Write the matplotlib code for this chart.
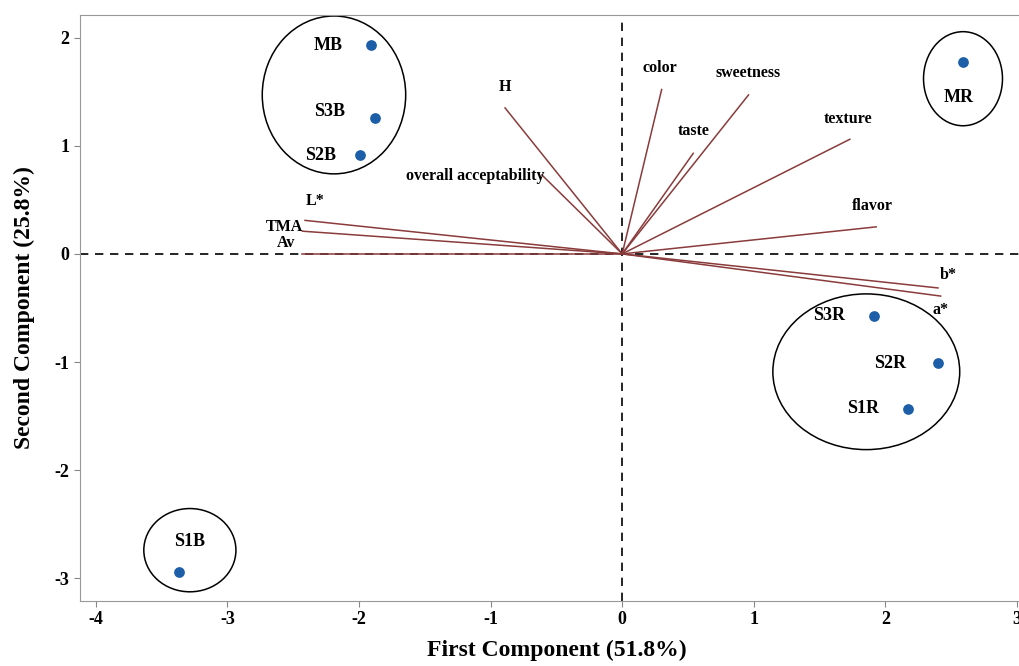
import matplotlib
matplotlib.use("Agg")
import matplotlib.pyplot as plt
from matplotlib.patches import Ellipse

# sample scores (PC1, PC2)
samples = ["MB", "S3B", "S2B", "MR", "S3R", "S2R", "S1R", "S1B"]
pc1 = [-1.91, -1.88, -1.99, 2.59, 1.91, 2.40, 2.17, -3.37]
pc2 = [1.93, 1.26, 0.91, 1.77, -0.57, -1.01, -1.43, -2.94]

# loading vectors
variables = ["H", "overall acceptability", "color", "sweetness", "taste",
             "texture", "flavor", "b*", "a*", "L*", "TMA", "Av"]
load1 = [-0.89, -0.61, 0.30, 0.96, 0.54, 1.73, 1.93, 2.40, 2.42, -2.41, -2.43, -2.43]
load2 = [1.35, 0.73, 1.52, 1.47, 0.93, 1.06, 0.25, -0.315, -0.39, 0.31, 0.21, 0.0]

# group ellipses: centre x, centre y, width, height
groups_cx = [-2.19, 2.59, 1.855, -3.285]
groups_cy = [1.47, 1.62, -1.09, -2.74]
groups_w = [1.09, 0.60, 1.42, 0.70]
groups_h = [1.46, 0.87, 1.44, 0.77]

# label offsets in pixels (dx, dy, ha)
sample_off = {"MB": (-43, 0), "S3B": (-45, 6), "S2B": (-40, 0), "MR": (-4, -35),
              "S3R": (-44, 0), "S2R": (-48, 0), "S1R": (-45, 0), "S1B": (11, 30)}
var_off = {"H": (0, 21, "center"), "overall acceptability": (3, -1, "right"),
           "color": (-2, 22, "center"), "sweetness": (0, 22, "center"),
           "taste": (0, 22, "center"), "texture": (-2, 20, "center"),
           "flavor": (-4, 21, "center"), "b*": (10, 13, "center"),
           "a*": (0, -14, "center"), "L*": (10, 19, "center"),
           "TMA": (1, 4, "right"), "Av": (-16, 11, "center")}

plt.rcParams["font.family"] = ["Liberation Serif", "DejaVu Serif"]
plt.rcParams["font.weight"] = "bold"
plt.rcParams["axes.unicode_minus"] = False

fig = plt.figure(figsize=(10.19, 6.66), dpi=100)
ax = fig.add_axes([0.0785, 0.0976, 0.935, 0.88])

ax.axhline(0, color="black", ls=(0, (5, 4)), lw=1.2, zorder=1)
ax.axvline(0, color="black", ls=(0, (5, 4)), lw=1.2, zorder=1)

for i in range(len(variables)):
    ax.plot([0, load1[i]], [0, load2[i]], color="#8a3b3b", lw=1.1, zorder=2)
    dx, dy, ha = var_off[variables[i]]
    ax.annotate(variables[i], (load1[i], load2[i]), xytext=(dx, dy),
                textcoords="offset pixels", ha=ha, va="center",
                fontsize=11.5, fontweight="bold")

ax.scatter(pc1, pc2, s=45, color="#1d5ea8", zorder=3)
for i in range(len(samples)):
    dx, dy = sample_off[samples[i]]
    ax.annotate(samples[i], (pc1[i], pc2[i]), xytext=(dx, dy),
                textcoords="offset pixels", ha="center", va="center",
                fontsize=13, fontweight="bold")

for i in range(len(groups_cx)):
    e = Ellipse((groups_cx[i], groups_cy[i]), groups_w[i], groups_h[i],
                fill=False, edgecolor="black", lw=1.1, zorder=2)
    ax.add_patch(e)

ax.set_xlim(-4.12, 3.12)
ax.set_ylim(-3.21, 2.21)
ax.set_xticks([-4, -3, -2, -1, 0, 1, 2, 3])
ax.set_yticks([-3, -2, -1, 0, 1, 2])
ax.tick_params(labelsize=13, color="#888888", length=4)
for lab in ax.get_xticklabels() + ax.get_yticklabels():
    lab.set_fontweight("bold")
for sp in ax.spines.values():
    sp.set_color("#999999")

ax.set_xlabel("First Component (51.8%)", fontsize=17, fontweight="bold", labelpad=8)
ax.set_ylabel("Second Component (25.8%)", fontsize=17, fontweight="bold", labelpad=14)

fig.savefig("out.png", dpi=100)
